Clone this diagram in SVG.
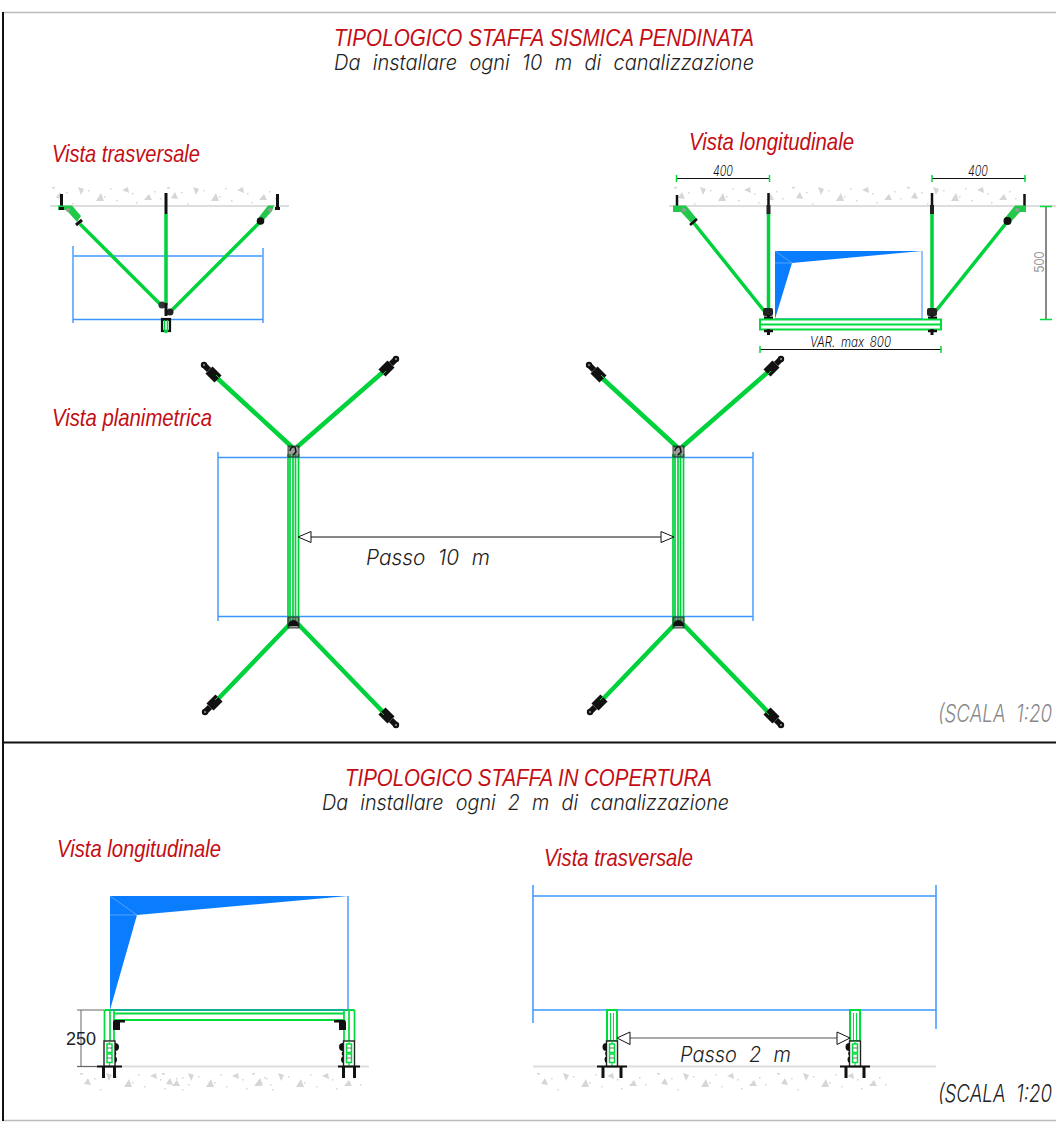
<svg xmlns="http://www.w3.org/2000/svg" xmlns:xlink="http://www.w3.org/1999/xlink" width="1056" height="1145" viewBox="0 0 1056 1145">
<style>
.red{font-family:"Liberation Sans Narrow","Liberation Sans",sans-serif;font-style:italic;fill:#c40d14;font-size:24px}
.cad{font-family:"Inter","DejaVu Sans",sans-serif;font-weight:300;font-style:italic;fill:#222;font-size:21px;word-spacing:7px}
.dim{font-family:"Inter","DejaVu Sans",sans-serif;font-weight:300;font-style:italic;fill:#111;font-size:14px}
.g{stroke:#00dc3c;fill:none;stroke-width:2}
.gt{stroke:#00d23c;fill:none;stroke-width:3.5}
.gw{stroke:#00d23c;fill:none;stroke-width:4.5}
.k{stroke:#111;fill:none;stroke-width:1}
.kt{stroke:#111;fill:none;stroke-width:3}
.b{stroke:#3c96ff;fill:none;stroke-width:1.4}
.ground{stroke:#ddd;stroke-width:1.8;fill:none}
.fr{stroke:#111;stroke-width:2;fill:none}
.frg{stroke:#bbb;stroke-width:1.5;fill:none}
</style>
<defs>
<g id="speck" fill="#d6d6d6">
<path d="M6 14l4-6 3 7zM28 3l6 2-3 6zM46 17l5-8 3 8zM72 6l6-3 1 6zM94 16l5-6 3 6z"/>
<rect x="2" y="3" width="3" height="1.500"/><rect x="16" y="8" width="1.500" height="1.500"/><rect x="22" y="19" width="1.500" height="1.500"/><rect x="38" y="6" width="1.500" height="1.500"/>
<rect x="54" y="12" width="1.500" height="1.500"/><rect x="60" y="4" width="1.500" height="1.500"/><rect x="66" y="16" width="1.500" height="1.500"/>
<rect x="82" y="9" width="1.500" height="1.500"/><rect x="86" y="18" width="1.500" height="1.500"/><rect x="104" y="7" width="1.500" height="1.500"/><rect x="110" y="14" width="1.500" height="1.500"/>
</g>
<g id="plan-head">
<path d="M1 1L-8-8" stroke="#111" stroke-width="10" fill="none"/>
<path d="M-8-8l-4-4" stroke="#111" stroke-width="6" fill="none"/>
<circle cx="-13" cy="-13" r="3.200" fill="#111"/>
<circle cx="-13" cy="-13" r="1" fill="#999"/>
<path d="M-1-3l4 4" stroke="#00d23c" stroke-width="1" fill="none"/>
</g>
<g id="plan-stem">
<path d="M-5 0V170M-3 0V170M0 0V170M2.500 0V170M5.500 0V170" stroke="#00d23c" stroke-width="1.700" fill="none"/>
</g>
<g id="plan-support">
<path class="gw" d="M-1 -3L-76 -72M4 -3L90 -78"/>
<path class="gw" d="M-3 174L-75 249M5 174L90 262"/>
<use xlink:href="#plan-stem" x="0" y="4"/>
<rect x="-5" y="-4" width="11" height="11" fill="#4a4a4a" fill-opacity=".55" stroke="#222" stroke-width=".8"/>
<path d="M-3 1a4 4 0 0 1 5-4l1 5-3 3" fill="none" stroke="#111" stroke-width="1.500"/>
<rect x="-5" y="167" width="11" height="11" fill="#4a4a4a" fill-opacity=".55" stroke="#222" stroke-width=".8"/>
<path d="M-5 176a5.500 6 0 0 1 11 0z" fill="#111"/>
<use xlink:href="#plan-head" transform="translate(-76 -72)"/>
<use xlink:href="#plan-head" transform="translate(90 -78) rotate(90)"/>
<use xlink:href="#plan-head" transform="translate(-75 249) rotate(-90)"/>
<use xlink:href="#plan-head" transform="translate(90 262) rotate(180)"/>
</g>
<g id="base-box">
<rect x="-5.500" y="0" width="11" height="25.500" fill="#fff" stroke="#222" stroke-width="1.400"/>
<rect x="-2.500" y="3" width="5" height="8.500" class="g" style="stroke-width:1.500"/>
<rect x="-2.500" y="13" width="5" height="8.500" class="g" style="stroke-width:1.500"/>
<path d="M-2.500 7h5M-2.500 17h5" stroke="#555" stroke-width=".8"/>
<path d="M0 0V3M0 22V26" stroke="#00dc3c" stroke-width="1.200"/>
</g>
</defs>

<g id="frame">
<path class="frg" d="M3 12.500H1056M3 1120.500H1056"/>
<path class="fr" d="M3 12V1121M3 742.500H1056"/>
</g>

<g id="titles">
<text class="red" x="334" y="46" textLength="420" lengthAdjust="spacingAndGlyphs">TIPOLOGICO STAFFA SISMICA PENDINATA</text>
<text class="cad" x="334" y="70" textLength="420" lengthAdjust="spacingAndGlyphs">Da installare ogni 10 m di canalizzazione</text>
<text class="red" x="52" y="162" textLength="148" lengthAdjust="spacingAndGlyphs">Vista trasversale</text>
<text class="red" x="689" y="150" textLength="165" lengthAdjust="spacingAndGlyphs">Vista longitudinale</text>
<text class="red" x="52" y="426" textLength="160" lengthAdjust="spacingAndGlyphs">Vista planimetrica</text>
<text class="red" x="345" y="786" textLength="367" lengthAdjust="spacingAndGlyphs">TIPOLOGICO STAFFA IN COPERTURA</text>
<text class="cad" x="322" y="810" textLength="407" lengthAdjust="spacingAndGlyphs">Da installare ogni 2 m di canalizzazione</text>
<text class="red" x="57" y="857" textLength="164" lengthAdjust="spacingAndGlyphs">Vista longitudinale</text>
<text class="red" x="544" y="866" textLength="149" lengthAdjust="spacingAndGlyphs">Vista trasversale</text>
<text class="cad" x="938" y="722" textLength="114" lengthAdjust="spacingAndGlyphs" style="fill:#888;font-size:24px">(SCALA 1:20</text>
<text class="cad" x="938" y="1102" textLength="114" lengthAdjust="spacingAndGlyphs" style="font-size:24px">(SCALA 1:20</text>
</g>

<g id="vista-trasversale-1">
<use xlink:href="#speck" x="50" y="184"/><use xlink:href="#speck" x="165" y="184"/>
<path class="ground" d="M50 206H289"/>
<path class="b" d="M73 246V323M263 248V323M73 319.500H263"/>
<path class="b" d="M73 256H263" style="stroke:#6cb0ff;stroke-width:2"/>
<path class="gt" d="M166 214V305M80 224L163 307M260 222L170 312"/>
<path class="kt" d="M61.500 194V209M166 193V214M277.500 194V209"/>
<path d="M58 205.500H72L81 216L77 222L69 213L66 210H58Z" fill="#22c84a"/>
<path d="M274 205.500H268L259 217L263 221L272 211Z" fill="#22c84a"/>
<rect x="59" y="207" width="5" height="3" fill="#111"/><rect x="275" y="207" width="5" height="3" fill="#111"/>
<circle cx="68" cy="210" r="2" fill="#999"/><circle cx="270" cy="210" r="2" fill="#999"/>
<path d="M76 225L82 220" stroke="#111" stroke-width="3"/>
<circle cx="260.500" cy="221" r="3.800" fill="#111"/>
<circle cx="162" cy="305" r="3.500" fill="#333"/><circle cx="170" cy="312" r="3.500" fill="#222"/>
<path class="kt" d="M166 303V316"/>
<rect x="162" y="319" width="8" height="12" fill="#fff" stroke="#111" stroke-width="2.200"/>
<path d="M161 319.500H171" stroke="#111" stroke-width="3"/>
<path d="M164.500 320V331H167.500V320" stroke="#00d23c" stroke-width="1.500" fill="none"/>
<circle cx="166" cy="331.500" r="1.800" fill="#00d23c"/>
</g>

<g id="vista-longitudinale-1">
<use xlink:href="#speck" x="672" y="184"/><use xlink:href="#speck" x="790" y="184"/><use xlink:href="#speck" x="905" y="184"/>
<path class="ground" d="M669 206H1056"/>
<path id="duct-1" d="M775 251H922L792 263L775 319Z" fill="#0a7dff"/>
<path d="M775 251L792 263M775 263H792" stroke="#9cc8ff" stroke-width=".5" fill="none"/>
<path class="b" d="M922 251V319" style="stroke:#6cb0ff;stroke-width:1.500"/>
<path class="gt" d="M768.500 213V310M932 213V310M693 222L765 312M1007 222L935 312"/>
<path class="kt" d="M677 195V207M768.500 193V213M932 193V213M1024.500 194V208" style="stroke-width:2.500"/>
<rect x="766.500" y="205" width="4" height="9" fill="#222"/><rect x="930" y="205" width="4" height="9" fill="#222"/>
<path d="M673 205.500H686L697 219L692 224L681 212H673Z" fill="#22c84a"/>
<path d="M1026 205.500H1015L1004 219L1009 224L1020 212H1026Z" fill="#22c84a"/>
<circle cx="684" cy="210" r="2" fill="#999"/><circle cx="1017" cy="210" r="2" fill="#999"/>
<path d="M690 225L697 219" stroke="#111" stroke-width="2.500"/>
<circle cx="1007.500" cy="221" r="4" fill="#111"/>
<rect x="763" y="308" width="10" height="8" rx="2" fill="#222"/>
<rect x="927" y="308" width="10" height="8" rx="2" fill="#222"/>
<path d="M764 318H773M928 318H937" stroke="#111" stroke-width="3"/>
<path d="M768.500 315V319M932 315V319" stroke="#111" stroke-width="3"/>
<path class="b" d="M775 319H922"/>
<g id="rail-1">
<rect class="g" x="760" y="319.500" width="181" height="10"/>
<path class="g" d="M760 324.500H941"/>
</g>
<path d="M764 331H773M928 331H937" stroke="#111" stroke-width="2.500"/>
<path d="M768.500 329V335M932 329V335" stroke="#111" stroke-width="3"/>
<g id="dims-1">
<path class="k" d="M676.500 178.500H769.500M932 178.500H1025M760 349.500H941M1046 206V319"/>
<path class="g" d="M676.500 175V182M769.500 175V182M932 175V182M1025 175V182M760 346V353M941 346V353M1040 206.500H1052M1040 319.500H1052" style="stroke-width:1.500"/>
<text class="dim" x="713" y="176" textLength="20" lengthAdjust="spacingAndGlyphs">400</text>
<text class="dim" x="968" y="176" textLength="20" lengthAdjust="spacingAndGlyphs">400</text>
<text class="dim" x="810" y="347" textLength="81" lengthAdjust="spacingAndGlyphs" style="word-spacing:3px">VAR. max 800</text>
<text transform="translate(1044 272.500) rotate(-90)" textLength="21" lengthAdjust="spacingAndGlyphs" style="font-family:'Liberation Sans',sans-serif;font-size:15px;fill:#999">500</text>
</g>
</g>

<g id="vista-planimetrica">
<path class="b" d="M218 452V621M753 452V621M218 457.500H753M218 616.500H753"/>
<use id="support-a" xlink:href="#plan-support" x="293" y="450"/>
<use id="support-b" xlink:href="#plan-support" x="678" y="450"/>
<g id="dim-10m">
<path class="k" d="M311 537H661"/>
<path d="M298 537L311 531.500V542.500Z M674 537L661 531.500V542.500Z" fill="#fff" stroke="#111"/>
<text class="cad" x="366" y="565" textLength="124" lengthAdjust="spacingAndGlyphs">Passo 10 m</text>
</g>
</g>

<g id="vista-longitudinale-2">
<use xlink:href="#speck" x="78" y="1070"/><use xlink:href="#speck" x="160" y="1070"/><use xlink:href="#speck" x="250" y="1070"/>
<path class="ground" d="M77 1066.500H369"/>
<path id="duct-2" d="M110 896H348L137 915L110 1010Z" fill="#0a7dff"/>
<path d="M110 896L137 915M110 915H137" stroke="#9cc8ff" stroke-width=".5" fill="none"/>
<path class="b" d="M348 896V1010"/>
<g id="dim-250">
<path d="M77 1010H104M77 1066.500H104M81 1010V1066" stroke="#666" stroke-width="1" fill="none"/>
<text x="66" y="1045" style="font-family:'Liberation Sans',sans-serif;font-size:18px;fill:#222">250</text>
</g>
<g id="rail-2" class="g">
<path d="M114 1013.500H344M114 1020H344" style="stroke-width:1.800"/>
<path d="M104.500 1010H354.500" />
<path d="M110 1010H348" style="stroke:#1a9fb0;stroke-width:1.500"/>
</g>
<g class="g">
<path d="M104.500 1010V1041M110 1010V1041M114 1010V1041M344 1010V1041M349 1010V1041M354.500 1010V1041" style="stroke-width:1.700"/>
</g>
<path d="M114 1020H125V1022.500H120V1030H113V1022Z" fill="#111"/>
<path d="M345 1020H334V1022.500H339V1030H346V1022Z" fill="#111"/>
<use xlink:href="#base-box" x="109.500" y="1041"/>
<use xlink:href="#base-box" x="349" y="1041"/>
<path d="M115 1043a4 4 0 0 1 0 8a3 3 0 0 1 0 5a4 4 0 0 1 0 7z" fill="#111"/>
<path d="M343 1043a4 4 0 0 0 0 8a3 3 0 0 0 0 5a4 4 0 0 0 0 7z" fill="#111"/>
<path d="M97 1066.500H122M338 1066.500H360" stroke="#111" stroke-width="2"/>
<path d="M103.500 1066V1078M114.500 1066V1078M343.500 1066V1078M354.500 1066V1078" stroke="#111" stroke-width="3"/>
</g>

<g id="vista-trasversale-2">
<use xlink:href="#speck" x="535" y="1070"/><use xlink:href="#speck" x="655" y="1070"/><use xlink:href="#speck" x="775" y="1070"/>
<path class="ground" d="M533 1066.500H936"/>
<path class="b" d="M533 885V1023M936 885V1029M533 896H936M533 1010H936" style="stroke-width:1.500"/>
<g class="g">
<rect x="607" y="1010" width="10" height="31"/>
<rect x="850" y="1010" width="10" height="31"/>
<path d="M610.500 1013V1041M613.500 1013V1041M853.500 1013V1041M856.500 1013V1041" style="stroke-width:1"/>
</g>
<use xlink:href="#base-box" x="612" y="1041"/>
<use xlink:href="#base-box" x="855" y="1041"/>
<path d="M606.500 1043a4 4 0 0 0 0 8a3 3 0 0 0 0 5a4 4 0 0 0 0 7z" fill="#111"/>
<path d="M849.500 1043a4 4 0 0 0 0 8a3 3 0 0 0 0 5a4 4 0 0 0 0 7z" fill="#111"/>
<path d="M597 1066.500H627M840 1066.500H870" stroke="#111" stroke-width="2"/>
<path d="M603 1066V1078M621 1066V1078M846 1066V1078M864 1066V1078" stroke="#111" stroke-width="3"/>
<g id="dim-2m">
<path d="M630 1038H837" stroke="#555" stroke-width="1" fill="none"/>
<path d="M617 1038L630 1032V1044.500Z M850 1038L837 1032V1044.500Z" fill="#fff" stroke="#111"/>
<text class="cad" x="680" y="1062" textLength="111" lengthAdjust="spacingAndGlyphs">Passo 2 m</text>
</g>
</g>
</svg>
